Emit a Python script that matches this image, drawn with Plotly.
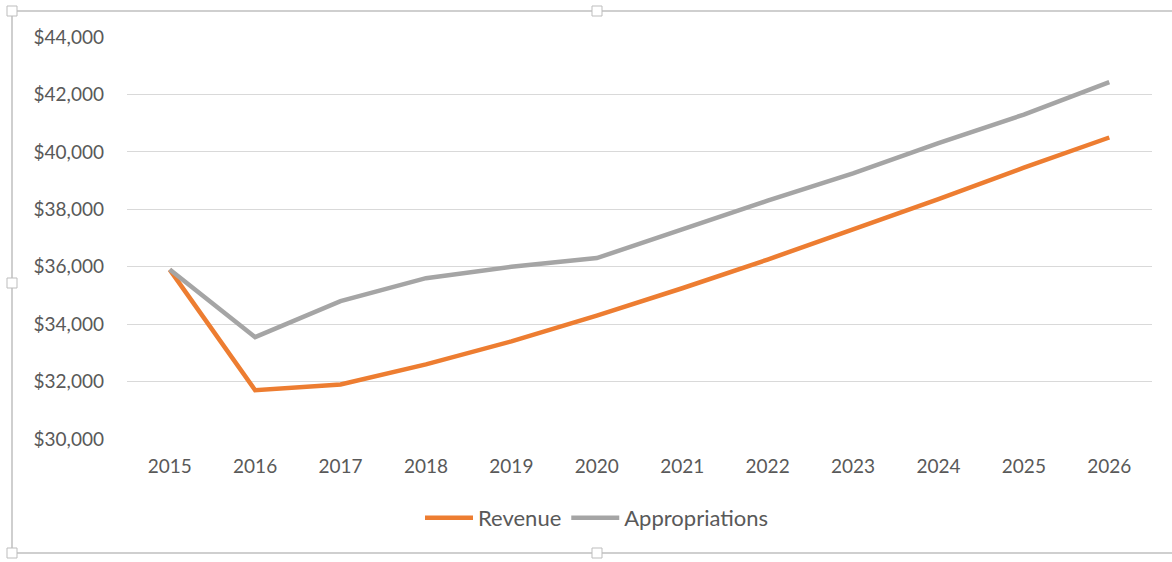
import plotly.graph_objects as go

years = ["2015", "2016", "2017", "2018", "2019", "2020", "2021", "2022", "2023", "2024", "2025", "2026"]
revenue = [35900, 31700, 31900, 32600, 33400, 34300, 35250, 36250, 37300, 38350, 39450, 40500]
appropriations = [35900, 33550, 34800, 35600, 36000, 36300, 37300, 38300, 39250, 40300, 41300, 42430]
y_ticks = [30000, 32000, 34000, 36000, 38000, 40000, 42000, 44000]
y_tick_labels = [f"${v:,}" for v in y_ticks]

W, H = 1172, 562
L, R, T, B = 127, 20, 37, 123
pw, ph = W - L - R, H - T - B

def px(x):
    return (x - L) / pw

def py(y):
    return (H - B - y) / ph

fig = go.Figure()
fig.add_trace(go.Scatter(x=years, y=revenue, name="Revenue", mode="lines",
                         line=dict(color="#ED7D31", width=4.5)))
fig.add_trace(go.Scatter(x=years, y=appropriations, name="Appropriations", mode="lines",
                         line=dict(color="#A5A5A5", width=4.5)))

font_family = "Lato, Open Sans, sans-serif"
fs = 19
fig.update_layout(
    width=W, height=H,
    margin=dict(l=L, r=R, t=T, b=B),
    paper_bgcolor="white", plot_bgcolor="white",
    font=dict(family=font_family, size=fs, color="#595959"),
    showlegend=True,
    legend=dict(orientation="h", x=px(597), xanchor="center", y=py(518), yanchor="middle",
                font=dict(size=22, color="#595959"), itemwidth=48, traceorder="normal"),
    xaxis=dict(type="category", range=[-0.5, 11.5], showgrid=False, zeroline=False,
               showline=False, ticks="", ticklabelstandoff=14,
               tickfont=dict(size=fs, color="#595959")),
    yaxis=dict(range=[30000, 44000], tickvals=y_ticks, ticktext=y_tick_labels,
               showgrid=True, gridcolor="#D9D9D9", gridwidth=1, zeroline=False,
               showline=False, ticks="", ticklabelstandoff=22,
               tickfont=dict(size=fs, color="#595959")),
)

# Chart selection frame (Excel-style)
x0, x1, y0, y1 = px(12), px(1182), py(553), py(11)
fig.add_shape(type="rect", xref="paper", yref="paper", x0=x0, x1=x1, y0=y0, y1=y1,
              line=dict(color="#CFCFCF", width=2), fillcolor="rgba(0,0,0,0)", layer="below")
for hx, hy in [(12, 11), (597, 11), (12, 283), (12, 553), (597, 553), (1182, 283)]:
    fig.add_shape(type="rect", xref="paper", yref="paper",
                  x0=px(hx - 5), x1=px(hx + 5), y0=py(hy + 5), y1=py(hy - 5),
                  line=dict(color="#BDBDBD", width=1), fillcolor="white", layer="above")

fig.write_html("out.html")
